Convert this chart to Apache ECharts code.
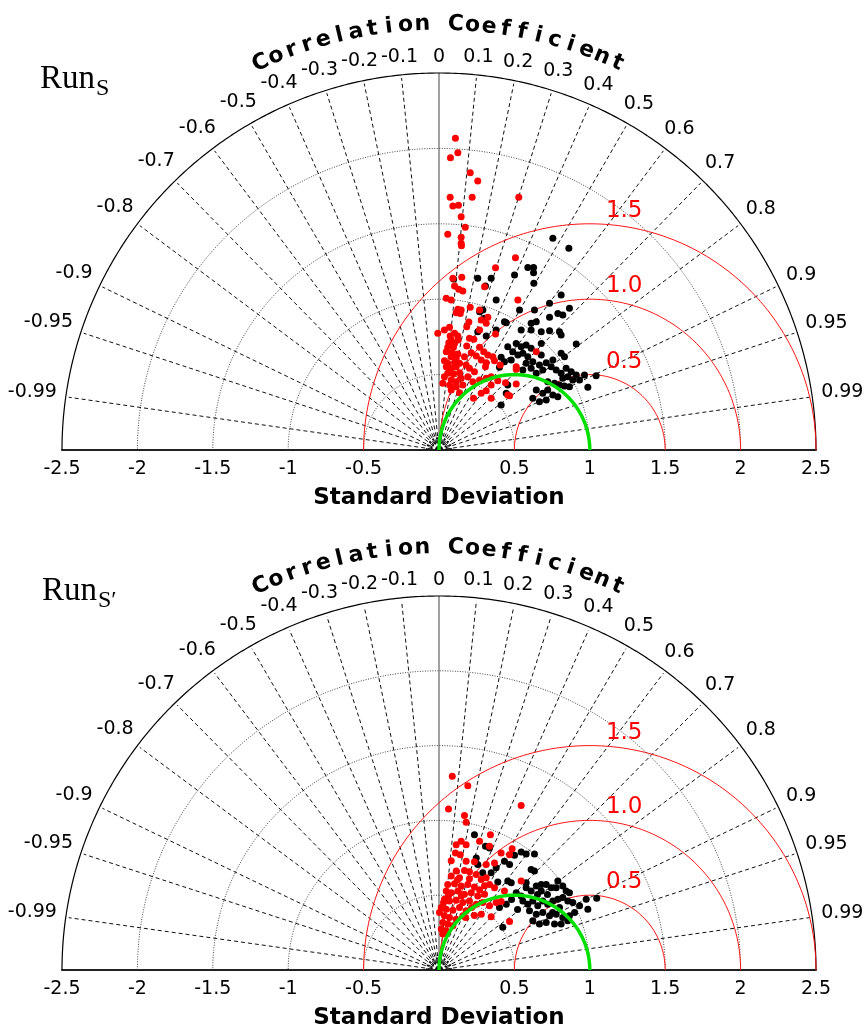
<!DOCTYPE html>
<html><head><meta charset="utf-8">
<script src="https://cdn.jsdelivr.net/npm/echarts@6/dist/echarts.min.js"></script>
<style>html,body{margin:0;padding:0;background:#fff}#c{width:866px;height:1031px}</style>
</head><body><div id="c"></div>
<script>
// ---------- data ----------
const xTickValues = [-2.5,-2,-1.5,-1,-0.5,0,0.5,1,1.5,2,2.5];
const xTickLabels = ['-2.5','-2','-1.5','-1','-0.5','','0.5','1','1.5','2','2.5'];
const stdGridArcs = [0.5, 1, 1.5, 2];
const stdMax = 2.5;
const originArcs = [0.022, 0.05, 0.08];
const corrTicks = [-0.99,-0.95,-0.9,-0.8,-0.7,-0.6,-0.5,-0.4,-0.3,-0.2,-0.1,0,0.1,0.2,0.3,0.4,0.5,0.6,0.7,0.8,0.9,0.95,0.99];
const corrTickLabels = ['-0.99','-0.95','-0.9','-0.8','-0.7','-0.6','-0.5','-0.4','-0.3','-0.2','-0.1','0','0.1','0.2','0.3','0.4','0.5','0.6','0.7','0.8','0.9','0.95','0.99'];
const refStd = 1;
const rmsArcs = [0.5, 1.0, 1.5];
const rmsLabels = ['0.5', '1.0', '1.5'];
const titleText = 'Correlation Coefficient';
const xAxisTitle = 'Standard Deviation';
const panelNames = [['Run', 'S'], ['Run', 'S\u2032']];

// points in standard-deviation space [x, y]
const redS = [[0.109,2.067],[0.125,1.971],[0.076,1.938],[0.207,1.839],[0.257,1.784],[0.074,1.676],[0.220,1.676],[0.092,1.618],[0.129,1.623],[0.147,1.547],[0.174,1.477],[0.058,1.430],[0.147,1.410],[0.147,1.371],[0.149,1.355],[0.529,1.676],[0.507,1.275],[0.375,1.209],[0.151,1.145],[0.092,1.139],[0.103,1.087],[0.131,1.066],[0.158,1.054],[0.302,1.083],[0.048,1.006],[0.081,0.995],[0.125,0.933],[0.147,0.928],[0.114,0.910],[0.141,0.906],[0.207,0.946],[0.269,0.928],[0.523,0.995],[0.280,0.862],[0.324,0.880],[0.313,0.840],[0.198,0.849],[0.184,0.818],[0.070,0.814],[0.036,0.796],[-0.008,0.774],[0.074,0.756],[0.103,0.774],[0.125,0.756],[0.269,0.796],[0.375,0.769],[0.081,0.729],[0.065,0.711],[0.103,0.707],[0.096,0.681],[0.127,0.729],[0.202,0.741],[0.231,0.734],[0.184,0.690],[0.058,0.681],[0.269,0.681],[0.297,0.652],[0.048,0.652],[0.088,0.645],[0.125,0.637],[0.081,0.619],[0.114,0.608],[0.214,0.645],[0.169,0.619],[0.247,0.623],[0.324,0.630],[0.357,0.619],[0.368,0.592],[0.280,0.597],[0.313,0.579],[0.308,0.552],[0.036,0.592],[0.058,0.575],[0.103,0.579],[0.136,0.575],[0.048,0.552],[0.081,0.542],[0.114,0.552],[0.180,0.564],[0.202,0.542],[0.235,0.519],[0.406,0.564],[0.512,0.552],[0.058,0.509],[0.096,0.504],[0.136,0.513],[0.036,0.486],[0.081,0.464],[0.114,0.453],[0.147,0.475],[0.191,0.486],[0.224,0.453],[0.269,0.464],[0.313,0.475],[0.346,0.486],[0.025,0.442],[0.070,0.431],[0.114,0.420],[0.158,0.431],[0.081,0.398],[0.136,0.380],[0.280,0.376],[0.313,0.393],[0.390,0.460],[0.441,0.446],[0.512,0.438],[0.229,0.343],[0.456,0.365],[0.346,0.431],[0.645,0.652],[0.512,0.535],[0.468,0.360],[0.346,0.343]];
const blackS = [[0.755,1.404],[0.861,1.338],[0.589,1.211],[0.627,1.211],[0.627,1.176],[0.501,1.160],[0.257,1.139],[0.096,1.134],[0.308,1.087],[0.346,1.139],[0.629,1.105],[0.810,1.028],[0.379,0.995],[0.733,0.973],[0.633,0.928],[0.534,0.928],[0.865,0.940],[0.269,0.917],[0.446,0.844],[0.645,0.851],[0.611,0.840],[0.733,0.880],[0.379,0.796],[0.545,0.796],[0.611,0.796],[0.678,0.784],[0.733,0.791],[0.799,0.784],[0.257,0.784],[0.313,0.756],[0.810,0.763],[0.512,0.707],[0.545,0.685],[0.578,0.696],[0.611,0.674],[0.678,0.707],[0.910,0.703],[0.456,0.685],[0.489,0.652],[0.523,0.630],[0.556,0.641],[0.589,0.619],[0.678,0.630],[0.810,0.641],[0.832,0.619],[0.755,0.597],[0.412,0.615],[0.434,0.586],[0.479,0.597],[0.578,0.575],[0.622,0.586],[0.666,0.564],[0.711,0.579],[0.744,0.552],[0.556,0.530],[0.611,0.542],[0.645,0.509],[0.688,0.530],[0.777,0.530],[0.810,0.509],[0.843,0.542],[0.877,0.519],[0.854,0.486],[0.821,0.475],[0.910,0.497],[0.887,0.464],[0.932,0.464],[0.965,0.497],[1.042,0.493],[0.987,0.416],[0.401,0.548],[0.721,0.453],[0.766,0.442],[0.799,0.431],[0.832,0.424],[0.865,0.420],[0.645,0.398],[0.688,0.376],[0.721,0.398],[0.755,0.365],[0.788,0.353],[0.622,0.343],[0.666,0.320],[0.711,0.332],[0.456,0.431],[0.446,0.376],[0.412,0.298],[0.788,0.906],[0.821,0.895],[0.291,0.928],[0.302,0.873],[0.434,0.851]];
const redS2 = [[0.088,1.295],[0.191,1.231],[0.063,1.076],[0.545,1.099],[0.169,1.032],[0.180,0.988],[0.269,0.860],[0.341,0.904],[0.114,0.837],[0.147,0.860],[0.180,0.837],[0.335,0.827],[0.485,0.811],[0.412,0.782],[0.109,0.782],[0.141,0.771],[0.081,0.731],[0.180,0.727],[0.235,0.723],[0.368,0.716],[0.313,0.705],[0.114,0.661],[0.169,0.665],[0.202,0.656],[0.081,0.628],[0.136,0.617],[0.247,0.639],[0.280,0.605],[0.313,0.617],[0.335,0.572],[0.368,0.550],[0.058,0.572],[0.103,0.577],[0.147,0.562],[0.191,0.572],[0.235,0.555],[0.048,0.528],[0.081,0.517],[0.125,0.528],[0.169,0.506],[0.214,0.517],[0.257,0.495],[0.302,0.506],[0.434,0.528],[0.545,0.595],[0.036,0.473],[0.070,0.462],[0.114,0.466],[0.158,0.451],[0.202,0.462],[0.247,0.440],[0.290,0.451],[0.015,0.418],[0.048,0.406],[0.092,0.400],[0.136,0.418],[0.180,0.396],[0.335,0.429],[0.379,0.451],[0.003,0.385],[0.036,0.363],[0.070,0.351],[0.114,0.340],[0.158,0.363],[0.280,0.373],[0.025,0.318],[0.058,0.307],[0.092,0.296],[0.015,0.274],[0.048,0.263],[0.025,0.241],[0.346,0.356],[0.468,0.325],[0.468,0.771],[0.149,0.497],[0.216,0.418],[0.269,0.537],[0.123,0.603],[0.202,0.610],[0.030,0.451],[0.063,0.497],[0.302,0.564],[0.176,0.351],[0.235,0.365],[0.412,0.458]];
const blackS2 = [[0.235,0.904],[0.308,0.827],[0.335,0.816],[0.247,0.749],[0.257,0.705],[0.501,0.767],[0.545,0.789],[0.578,0.776],[0.633,0.776],[0.434,0.727],[0.468,0.705],[0.611,0.672],[0.633,0.661],[0.379,0.683],[0.346,0.650],[0.290,0.650],[0.456,0.595],[0.479,0.584],[0.390,0.588],[0.578,0.584],[0.678,0.572],[0.788,0.595],[0.777,0.550],[0.512,0.517],[0.545,0.495],[0.578,0.550],[0.611,0.528],[0.645,0.562],[0.678,0.528],[0.711,0.572],[0.744,0.550],[0.821,0.562],[0.843,0.528],[0.556,0.462],[0.589,0.440],[0.622,0.462],[0.655,0.429],[0.688,0.462],[0.721,0.440],[0.755,0.462],[0.788,0.473],[0.821,0.484],[0.854,0.462],[0.887,0.451],[0.932,0.429],[0.600,0.396],[0.645,0.373],[0.688,0.385],[0.733,0.363],[0.777,0.373],[0.821,0.351],[0.865,0.363],[0.622,0.330],[0.666,0.307],[0.711,0.318],[0.766,0.307],[0.810,0.307],[0.854,0.330],[0.976,0.473],[1.046,0.479],[0.987,0.406],[0.423,0.285],[0.401,0.418],[0.446,0.440],[0.719,0.504],[0.799,0.418],[0.899,0.385],[0.653,0.504],[0.521,0.405],[0.481,0.471],[0.865,0.517],[0.753,0.385]];
const panelRed = [redS, redS2];
const panelBlack = [blackS, blackS2];

// ---------- helpers ----------
const FONT = 'DejaVu Sans';
const D2R = Math.PI / 180;
function arcPts(cx, r, a0, a1, n) {
  const pts = [];
  for (let i = 0; i <= n; i++) {
    const a = (a0 + (a1 - a0) * i / n) * D2R;
    pts.push([cx + r * Math.cos(a), r * Math.sin(a)]);
  }
  return pts;
}
function lineS(p, data, style, z) {
  return {type: 'line', xAxisIndex: p, yAxisIndex: p, data: data, symbol: 'none', silent: true,
    clip: false, animation: false, lineStyle: Object.assign({opacity: 1}, style), z: z || 2};
}
const ctx = document.createElement('canvas').getContext('2d');
function textW(t, font) { ctx.font = font; return ctx.measureText(t).width; }
function labelS(p, items, z) {
  return {type: 'scatter', xAxisIndex: p, yAxisIndex: p, symbolSize: 1, silent: true, clip: false,
    animation: false, itemStyle: {color: 'rgba(0,0,0,0)', opacity: 1}, z: z || 7,
    data: items.map(it => ({value: it.value, label: Object.assign({show: true, formatter: it.text, opacity: 1}, it.label)}))};
}

function panelSeries(p) {
  const s = [];
  stdGridArcs.forEach(r => s.push(lineS(p, arcPts(0, r, 0, 180, 180), {color: '#444', width: 1, type: [1, 1.5]})));
  originArcs.forEach((r, i) => s.push(lineS(p, arcPts(0, r, 0, 180, 40),
    {color: '#111', width: 2, type: i === 0 ? 'solid' : (i === 1 ? [1.5, 1.5] : [2, 2])})));
  corrTicks.forEach(c => {
    const a = Math.acos(c);
    const r1 = c === 0 ? stdMax : stdMax - 0.02;
    s.push(lineS(p, [[0, 0], [r1 * Math.cos(a), r1 * Math.sin(a)]],
      c === 0 ? {color: '#444', width: 1} : {color: '#111', width: 1, type: [4, 3]}));
  });
  s.push(lineS(p, arcPts(0, stdMax, 0, 180, 360), {color: '#000', width: 1.2}, 3));
  rmsArcs.forEach(r => s.push(lineS(p, arcPts(refStd, r, 0, 180, 180), {color: '#ff1010', width: 1}, 3)));
  s.push({type: 'scatter', xAxisIndex: p, yAxisIndex: p, data: panelBlack[p], symbol: 'circle', symbolSize: 7,
    itemStyle: {color: '#000', opacity: 1}, silent: true, clip: false, animation: false, z: 5});
  s.push({type: 'scatter', xAxisIndex: p, yAxisIndex: p, data: panelRed[p], symbol: 'circle', symbolSize: 7,
    itemStyle: {color: '#ff0000', opacity: 1}, silent: true, clip: false, animation: false, z: 5});
  s.push(lineS(p, arcPts(refStd / 2, refStd / 2, 0, 180, 120), {color: '#00e000', width: 3.5}, 6));
  const lf = '19px "' + FONT + '"';
  const R0 = 2.555;
  s.push(labelS(p, corrTicks.map((c, i) => {
    const a = Math.acos(c);
    const t = corrTickLabels[i];
    const w = textW(t, lf);
    const d = (w / 2) * Math.abs(Math.cos(a)) + 8 * Math.abs(Math.sin(a));
    return {value: [R0 * Math.cos(a), R0 * Math.sin(a)], text: t,
      label: {position: 'inside', fontFamily: FONT, fontSize: 19, color: '#000',
        offset: [d * Math.cos(a), -d * Math.sin(a)]}};
  })));
  const chars = titleText.split('');
  const n = chars.length, step = 2.25, Rt = 2.825;
  s.push(labelS(p, chars.map((ch, i) => {
    const ang = 90 + ((n - 1) / 2 - i) * step;
    return {value: [Rt * Math.cos(ang * D2R), Rt * Math.sin(ang * D2R)], text: ch === ' ' ? '' : ch,
      label: {position: 'inside', fontFamily: FONT, fontWeight: 'bold', fontSize: 22, color: '#000', rotate: ang - 90}};
  })));
  s.push(labelS(p, rmsArcs.map((r, i) => ({value: [refStd + 0.11, r], text: rmsLabels[i],
    label: {position: [0, 0], align: 'left', verticalAlign: 'bottom', fontFamily: FONT, fontSize: 23, color: '#ff0000',
      padding: [0, 0, 1, 0]}}))));
  return s;
}

function xAxisFor(p) {
  return {type: 'value', gridIndex: p, min: -2.5, max: 2.5, interval: 0.5,
    axisLine: {show: true, onZero: false, lineStyle: {color: '#222', width: 2}},
    axisTick: {show: false}, splitLine: {show: false},
    axisLabel: {show: true, margin: 10, color: '#000', fontFamily: FONT, fontSize: 19, showMinLabel: true, showMaxLabel: true,
      formatter: v => { const i = xTickValues.findIndex(t => Math.abs(t - v) < 1e-9); return i >= 0 ? xTickLabels[i] : ''; }},
    name: xAxisTitle, nameLocation: 'middle', nameGap: 37,
    nameTextStyle: {color: '#000', fontFamily: FONT, fontWeight: 'bold', fontSize: 23}};
}
function yAxisFor(p) {
  return {type: 'value', gridIndex: p, min: 0, max: stdMax, show: false};
}

const chart = echarts.init(document.getElementById('c'), null, {renderer: 'canvas'});
const series = panelSeries(0).concat(panelSeries(1));
const graphics = [];
[[40, 83], [42, 595]].forEach((pos, p) => {
  graphics.push({type: 'text', left: pos[0], top: pos[1] - 20, style: {text: panelNames[p][0], font: '33px "Liberation Serif"', fill: '#000'}});
  graphics.push({type: 'text', left: pos[0] + 56, top: pos[1] - 6, style: {text: panelNames[p][1], font: '24px "Liberation Serif"', fill: '#000'}});
});
chart.setOption({
  animation: false,
  backgroundColor: '#fff',
  grid: [{left: 62, width: 754, top: 73, height: 377}, {left: 62, width: 754, top: 596, height: 377}],
  xAxis: [xAxisFor(0), xAxisFor(1)],
  yAxis: [yAxisFor(0), yAxisFor(1)],
  graphic: graphics,
  series: series
});
</script>
</body></html>
